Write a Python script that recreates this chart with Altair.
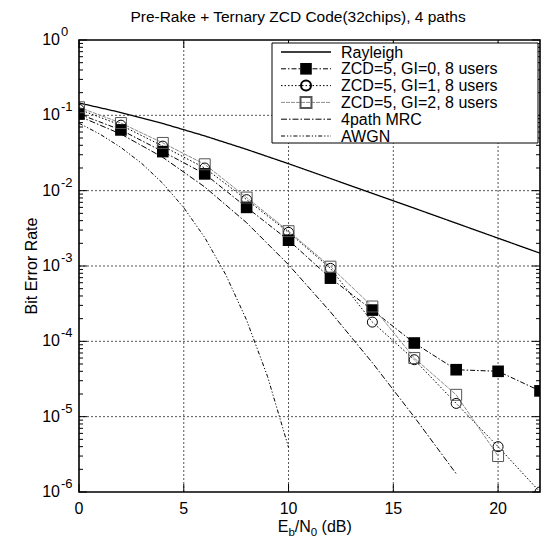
import altair as alt
import pandas as pd

# ---------------- data ----------------
snr_zcd = [0, 2, 4, 6, 8, 10, 12, 14, 16, 18, 20, 22]
ber_gi0 = [0.104, 0.064, 0.033, 0.0167, 0.0060, 2.2e-3, 6.9e-4, 2.6e-4, 9.5e-5, 4.2e-5, 4.0e-5, 2.2e-5]
ber_gi1 = [0.120, 0.074, 0.039, 0.0200, 0.0076, 2.8e-3, 9.3e-4, 1.8e-4, 5.7e-5, 1.5e-5, 4.0e-6, 1.0e-6]
snr_gi2 = [0, 2, 4, 6, 8, 10, 12, 14, 16, 18, 20]
ber_gi2 = [0.128, 0.079, 0.043, 0.0224, 0.0081, 2.9e-3, 9.8e-4, 2.9e-4, 6.0e-5, 1.95e-5, 3.0e-6]

snr_ray = [0, 2, 4, 6, 8, 10, 12, 14, 16, 18, 20, 22]
ber_ray = [0.146, 0.109, 0.0779, 0.0533, 0.0353, 0.0228, 0.0145, 0.0092, 0.00585, 0.00370, 0.00234, 0.00148]

snr_mrc = [0, 2, 4, 6, 8, 10, 12, 14, 16, 18]
ber_mrc = [0.0976, 0.0564, 0.0277, 0.0112, 3.75e-3, 1.04e-3, 2.46e-4, 5.2e-5, 9.9e-6, 1.75e-6]

snr_awgn = [0, 1, 2, 3, 4, 5, 6, 7, 8, 9, 10]
ber_awgn = [0.0786, 0.0563, 0.0375, 0.0229, 0.0125, 0.00595, 0.00239, 7.7e-4, 1.91e-4, 3.4e-5, 3.9e-6]

x_ticks = [0, 5, 10, 15, 20]
x_tick_labels = ["0", "5", "10", "15", "20"]
x_grid = [5, 10, 15, 20]
y_decades = [1e-6, 1e-5, 1e-4, 1e-3, 1e-2, 1e-1, 1e0]
y_exponents = ["-6", "-5", "-4", "-3", "-2", "-1", "0"]
y_grid = [1e-5, 1e-4, 1e-3, 1e-2, 1e-1]
y_minor = [k * d for d in [1e-6, 1e-5, 1e-4, 1e-3, 1e-2, 1e-1] for k in range(2, 10)]

legend_labels = ["Rayleigh", "ZCD=5, GI=0, 8 users", "ZCD=5, GI=1, 8 users",
                 "ZCD=5, GI=2, 8 users", "4path MRC", "AWGN"]

title_text = "Pre-Rake + Ternary ZCD Code(32chips), 4 paths"

# ---------------- layout ----------------
W, H = 461, 452
X_MIN, X_MAX = 0, 22
Y_MIN, Y_MAX = 1e-6, 1.0
FONT = "Liberation Sans"

xs = alt.Scale(domain=[X_MIN, X_MAX], nice=False, zero=False)
ys = alt.Scale(type="log", domain=[Y_MIN, Y_MAX], nice=False)

px_per_x = W / (X_MAX - X_MIN)      # pixels per dB
px_per_dec = H / 6.0                # pixels per decade


def X(f="snr"):
    return alt.X(f + ":Q", scale=xs, axis=None)


def Y(f="ber"):
    return alt.Y(f + ":Q", scale=ys, axis=None)


def X2(f):
    return alt.X2(f + ":Q")


def Y2(f):
    return alt.Y2(f + ":Q")


def df(x, y):
    return pd.DataFrame({"snr": x, "ber": y})


def line(d, color, dash, width=1.0):
    return alt.Chart(d).mark_line(clip=True, color=color, strokeDash=dash,
                                  strokeWidth=width).encode(x=X(), y=Y())


def points(d, shape, filled, color, size, sw=1.0):
    kw = dict(shape=shape, filled=filled, size=size, clip=True, strokeWidth=sw, opacity=1)
    if filled:
        kw.update(color=color)
    else:
        kw.update(stroke=color, fillOpacity=0)
    return alt.Chart(d).mark_point(**kw).encode(x=X(), y=Y())


d_ray = df(snr_ray, ber_ray)
d_gi0 = df(snr_zcd, ber_gi0)
d_gi1 = df(snr_zcd, ber_gi1)
d_gi2 = df(snr_gi2, ber_gi2)
d_mrc = df(snr_mrc, ber_mrc)
d_awgn = df(snr_awgn, ber_awgn)

styles = {
    "ray": dict(color="black", dash=[1, 0], width=1.3),
    "gi0": dict(color="black", dash=[5, 2, 1.5, 2], width=1.0),
    "gi1": dict(color="black", dash=[1.5, 2], width=1.0),
    "gi2": dict(color="#8c8c8c", dash=[4, 1], width=1.0),
    "mrc": dict(color="black", dash=[6, 2, 1.5, 2], width=1.0),
    "awgn": dict(color="black", dash=[4, 2, 1.2, 2, 1.2, 2], width=1.0),
}

one = pd.DataFrame({"k": [0]})
d_xt = pd.DataFrame({"snr": x_ticks, "lab": x_tick_labels})
d_xg = pd.DataFrame({"snr": x_grid})
d_yt = pd.DataFrame({"ber": y_decades, "e": y_exponents})
d_yg = pd.DataFrame({"ber": y_grid})
d_ym = pd.DataFrame({"ber": y_minor})

GRID_COLOR = "#555555"
GRID_DASH = [2, 2]

# ---- grid (through the scales) ----
grid = [
    alt.Chart(d_xg).mark_rule(color=GRID_COLOR, strokeDash=GRID_DASH, strokeWidth=1)
    .transform_calculate(lo=str(Y_MIN), hi=str(Y_MAX))
    .encode(x=X(), y=Y("lo"), y2=Y2("hi")),
    alt.Chart(d_yg).mark_rule(color=GRID_COLOR, strokeDash=GRID_DASH, strokeWidth=1)
    .transform_calculate(a=str(X_MIN), b=str(X_MAX))
    .encode(y=Y(), x=X("a"), x2=X2("b")),
]


# ---- inward ticks ----
def yticks(d, length):
    dx = length / px_per_x
    return [
        alt.Chart(d).mark_rule(color="black", strokeWidth=1)
        .transform_calculate(a=str(X_MIN), b=str(X_MIN + dx))
        .encode(y=Y(), x=X("a"), x2=X2("b")),
        alt.Chart(d).mark_rule(color="black", strokeWidth=1)
        .transform_calculate(a=str(X_MAX), b=str(X_MAX - dx))
        .encode(y=Y(), x=X("a"), x2=X2("b")),
    ]


def xticks(d, length):
    f = 10 ** (length / px_per_dec)
    return [
        alt.Chart(d).mark_rule(color="black", strokeWidth=1)
        .transform_calculate(lo=str(Y_MIN), hi=str(Y_MIN * f))
        .encode(x=X(), y=Y("lo"), y2=Y2("hi")),
        alt.Chart(d).mark_rule(color="black", strokeWidth=1)
        .transform_calculate(lo=str(Y_MAX / f), hi=str(Y_MAX))
        .encode(x=X(), y=Y("lo"), y2=Y2("hi")),
    ]


tick_layers = yticks(d_yt, 8) + yticks(d_ym, 4) + xticks(d_xt, 8)

frame = (alt.Chart(one).mark_rect(fillOpacity=0, stroke="black", strokeWidth=1.6)
         .transform_calculate(a=str(X_MIN), b=str(X_MAX), lo=str(Y_MIN), hi=str(Y_MAX))
         .encode(x=X("a"), x2=X2("b"), y=Y("lo"), y2=Y2("hi")))

# ---- tick labels ----
xlab = alt.Chart(d_xt).mark_text(align="center", baseline="top", fontSize=16, font=FONT,
                                 color="black").encode(x=X(), y=alt.value(H + 9), text="lab:N")
ylab_base = alt.Chart(d_yt).mark_text(text="10", align="right", baseline="middle", fontSize=16,
                                      font=FONT, color="black").encode(y=Y(), x=alt.value(-19))
ylab_exp = alt.Chart(d_yt).mark_text(align="left", baseline="middle", fontSize=13, dy=-8,
                                     font=FONT, color="black").encode(
    y=Y(), x=alt.value(-18), text="e:N")

# ---- data layers ----
lines = [
    line(d_ray, **styles["ray"]),
    line(d_gi0, **styles["gi0"]),
    line(d_gi1, **styles["gi1"]),
    line(d_gi2, **styles["gi2"]),
    line(d_mrc, **styles["mrc"]),
    line(d_awgn, **styles["awgn"]),
]
marker_spec = {"gi0": ("square", True, "black", 135), "gi1": ("circle", False, "black", 100),
               "gi2": ("square", False, "#555555", 120)}
marks = [
    points(d_gi0, *marker_spec["gi0"]),
    points(d_gi1, *marker_spec["gi1"]),
    points(d_gi2, *marker_spec["gi2"]),
]

# ---- legend (drawn by hand) ----
leg = [alt.Chart(one).mark_rect(fill="white", stroke="black", strokeWidth=1).encode(
    x=alt.value(193), x2=alt.value(W - 2), y=alt.value(3), y2=alt.value(103))]
keys = ["ray", "gi0", "gi1", "gi2", "mrc", "awgn"]
for i, (k, lab) in enumerate(zip(keys, legend_labels)):
    yy = 12 + 16.8 * i
    st = styles[k]
    leg.append(alt.Chart(one).mark_rule(color=st["color"], strokeDash=st["dash"],
                                        strokeWidth=st["width"]).encode(
        x=alt.value(202), x2=alt.value(252), y=alt.value(yy)))
    if k in marker_spec:
        shp, fil, col, sz = marker_spec[k]
        kw = dict(shape=shp, filled=fil, size=sz, opacity=1)
        if fil:
            kw.update(color=col)
        else:
            kw.update(stroke=col, fillOpacity=0)
        leg.append(alt.Chart(one).mark_point(**kw).encode(x=alt.value(227), y=alt.value(yy)))
    leg.append(alt.Chart(one).mark_text(text=lab, align="left", baseline="middle", fontSize=16,
                                        font=FONT, color="black").encode(
        x=alt.value(262), y=alt.value(yy + 0.5)))

# ---- titles ----
texts = [
    alt.Chart(one).mark_text(text=title_text, align="center", baseline="middle", fontSize=15.5,
                             font=FONT, color="black").encode(x=alt.value(219), y=alt.value(-23)),
    alt.Chart(one).mark_text(text="Bit Error Rate", align="center", baseline="middle", fontSize=16,
                             angle=270, font=FONT, color="black").encode(
        x=alt.value(-47), y=alt.value(226)),
]
# x-axis title E_b/N_0 (dB)
xt_pieces = [("E", 198.7, 492, 16), ("b", 209.4, 496, 11.5), ("/N", 215.8, 492, 16),
             ("0", 231.8, 496, 11.5), ("(dB)", 242.6, 492, 16)]
for t, px, py, fs in xt_pieces:
    texts.append(alt.Chart(one).mark_text(text=t, align="left", baseline="alphabetic", fontSize=fs,
                                          font=FONT, color="black").encode(
        x=alt.value(px), y=alt.value(py)))

chart = alt.layer(
    *grid, *lines, *marks, *tick_layers, frame, xlab, ylab_base, ylab_exp, *leg, *texts
).properties(
    width=W, height=H,
    autosize=alt.AutoSizeParams(type="none"),
    padding={"left": 71, "top": 32, "right": 1, "bottom": 45},
    background="white",
).configure_view(stroke=None)

chart.save("out.html", embed_options={"renderer": "svg", "actions": False})
